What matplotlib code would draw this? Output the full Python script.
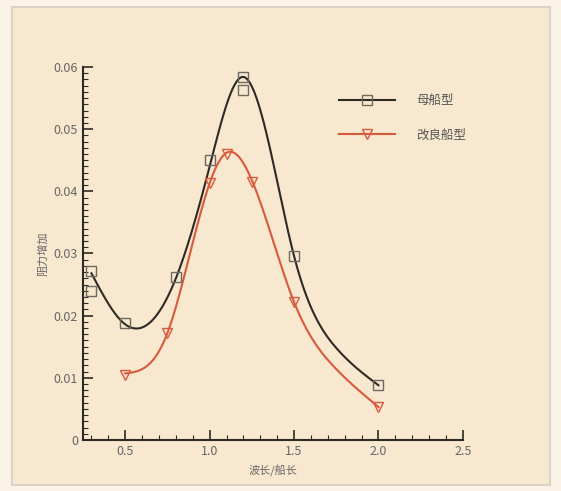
import numpy as np
import matplotlib.pyplot as plt
from matplotlib.patches import Rectangle
from matplotlib.ticker import MultipleLocator

plt.rcParams['font.family'] = ['Noto Sans CJK SC', 'DejaVu Sans']

# 母船型 测点
x_mu = [0.3, 0.3, 0.5, 0.8, 1.0, 1.2, 1.2, 1.5, 2.0]
y_mu = [0.0272, 0.0240, 0.0188, 0.0262, 0.0450, 0.0584, 0.0563, 0.0296, 0.0088]
# 改良船型 测点
x_gl = [0.5, 0.75, 1.0, 1.1, 1.25, 1.5, 2.0]
y_gl = [0.0105, 0.0172, 0.0413, 0.0460, 0.0415, 0.0222, 0.0053]

# 拟合曲线的节点
kx_mu = [0.3, 0.5, 0.8, 1.0, 1.2, 1.5, 1.75, 2.0]
ky_mu = [0.0268, 0.0186, 0.0260, 0.0440, 0.0584, 0.0296, 0.0148, 0.0088]
kx_gl = [0.5, 0.75, 1.0, 1.1, 1.25, 1.5, 1.75, 2.0]
ky_gl = [0.0107, 0.0172, 0.0413, 0.0462, 0.0418, 0.0222, 0.0114, 0.0053]

xticks = [0.5, 1.0, 1.5, 2.0, 2.5]
xlabels = ['0.5', '1.0', '1.5', '2.0', '2.5']
yticks = [0, 0.01, 0.02, 0.03, 0.04, 0.05, 0.06]
ylabels = ['0', '0.01', '0.02', '0.03', '0.04', '0.05', '0.06']


def natural_spline(xk, yk, n=300):
    # 自然三次样条, 只用于画平滑曲线
    xk = np.asarray(xk, float)
    yk = np.asarray(yk, float)
    m = len(xk)
    h = np.diff(xk)
    A = np.zeros((m, m))
    r = np.zeros(m)
    A[0, 0] = A[-1, -1] = 1
    for i in range(1, m - 1):
        A[i, i - 1] = h[i - 1]
        A[i, i] = 2 * (h[i - 1] + h[i])
        A[i, i + 1] = h[i]
        r[i] = 6 * ((yk[i + 1] - yk[i]) / h[i] - (yk[i] - yk[i - 1]) / h[i - 1])
    M = np.linalg.solve(A, r)
    xs = np.linspace(xk[0], xk[-1], n)
    idx = np.clip(np.searchsorted(xk, xs) - 1, 0, m - 2)
    x0, x1 = xk[idx], xk[idx + 1]
    hh = x1 - x0
    a = (x1 - xs) / hh
    b = (xs - x0) / hh
    ys = a * yk[idx] + b * yk[idx + 1] + ((a**3 - a) * M[idx] + (b**3 - b) * M[idx + 1]) * hh**2 / 6
    return xs, ys


fig = plt.figure(figsize=(5.61, 4.91), dpi=100, facecolor='#fbf3e6')
fig.patches.append(Rectangle((12 / 561, 6 / 491), 538 / 561, 478 / 491,
                             transform=fig.transFigure, facecolor='#f8e8cf',
                             edgecolor='#d8d2c8', lw=1.5, zorder=-10))

ax = fig.add_axes([0.148, 0.104, 0.677, 0.7595])
ax.set_facecolor('none')

dark = '#2e2b24'
red = '#d9593d'

xs, ys = natural_spline(kx_mu, ky_mu)
ax.plot(xs, ys, color=dark, lw=1.5)
xs, ys = natural_spline(kx_gl, ky_gl)
ax.plot(xs, ys, color=red, lw=1.5)

ax.plot(x_mu, y_mu, ls='none', marker='s', ms=7.5, mfc='none', mec='#6e6a62', mew=1.0)
ax.plot(x_gl, y_gl, ls='none', marker='v', ms=7, mfc='none', mec=red, mew=1.0)

# 图例
h1, = ax.plot([], [], color=dark, lw=1.5, marker='s', ms=7.5, mfc='none', mec='#6e6a62')
h2, = ax.plot([], [], color=red, lw=1.5, marker='v', ms=7, mfc='none', mec=red)
ax.legend([h1, h2], ['母船型', '改良船型'], loc='upper left', bbox_to_anchor=(0.645, 0.958),
          frameon=False, handlelength=4.5, labelspacing=1.75, handletextpad=1.7,
          fontsize=9, labelcolor='#555555', numpoints=1)

ax.set_xlim(0.25, 2.5)
ax.set_ylim(0, 0.06)
ax.set_xticks(xticks, xlabels)
ax.set_yticks(yticks, ylabels)
ax.xaxis.set_minor_locator(MultipleLocator(0.1))
ax.yaxis.set_minor_locator(MultipleLocator(0.001))
ax.tick_params(which='both', direction='in', color=dark, labelcolor='#666666', labelsize=9)
ax.tick_params(which='major', length=7, width=1.2)
ax.tick_params(which='minor', length=3.5, width=0.8)
for s in ['top', 'right']:
    ax.spines[s].set_visible(False)
for s in ['left', 'bottom']:
    ax.spines[s].set_color(dark)
    ax.spines[s].set_linewidth(1.5)

ax.set_xlabel('波长/船长', fontsize=8, color='#666666', labelpad=5)
ax.set_ylabel('阻力增加', fontsize=8, color='#666666', labelpad=4)

fig.savefig('out.png', dpi=100, facecolor=fig.get_facecolor())
